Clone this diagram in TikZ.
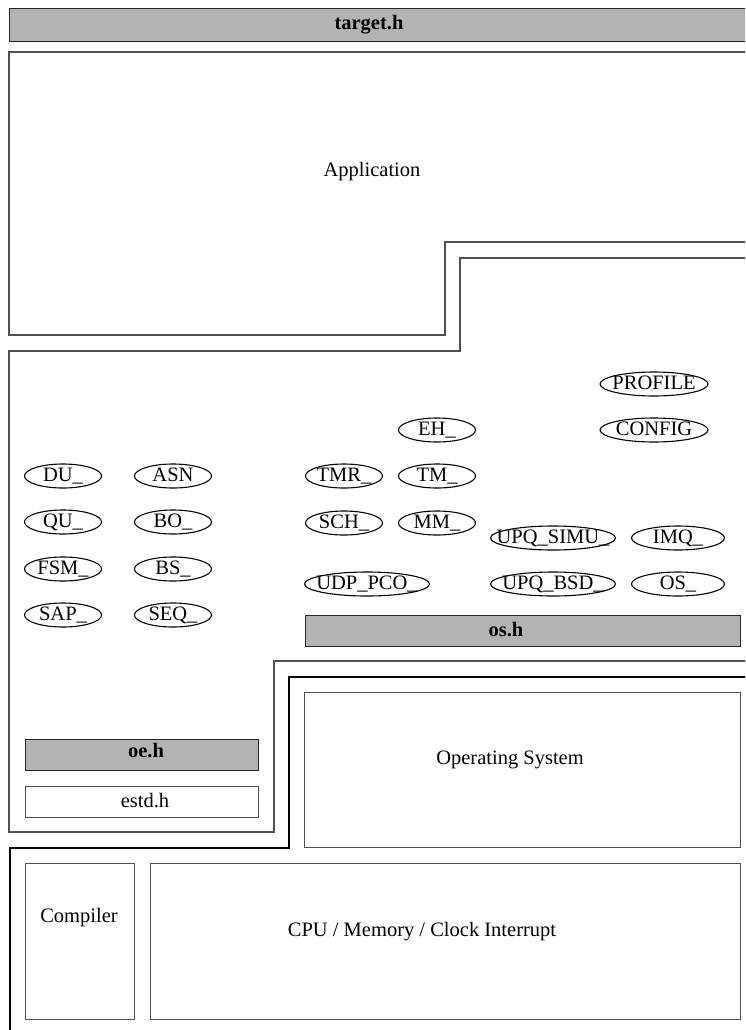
\documentclass[tikz,border=0pt]{standalone}
\usepackage{fontspec}
\setmainfont{Liberation Serif}
\usepackage{xcolor}
\usepackage{tikz}
\usetikzlibrary{shapes.geometric}
\definecolor{hdrgray}{RGB}{179,179,179}
\definecolor{edgegray}{RGB}{80,80,80}
\newcommand{\oz}[1]{\hbox to 0pt{\hss#1\hss}}

\begin{document}
\begin{tikzpicture}[
      x=1pt,y=-1pt,
      font=\fontsize{20.5}{24}\selectfont,
      region/.style={draw=edgegray,line width=1.2pt},
      osline/.style={draw=black,line width=2pt},
      box/.style={rectangle,draw=edgegray,line width=1pt,anchor=north west,inner sep=0pt},
      hdr/.style={box,fill=hdrgray,draw=black!85},
      hdrtxt/.style={font=\fontsize{20.5}{24}\selectfont\bfseries},
      oval/.style={ellipse,draw,line width=1.1pt,inner sep=0pt,minimum width=77pt,
                   minimum height=24pt,text height=11pt,text depth=0pt}]
    \useasboundingbox (0,0) rectangle (745,1030);
    \clip (0,0) rectangle (745,1030);
    % header
    \node[hdr,minimum width=760pt,minimum height=33pt] (target) at (9,8) {};
    \node[hdrtxt] (targettxt) at (369,25) {target.h};
    % layers
    \draw[region] (760,242) -- (445,242) -- (445,335) -- (9,335) -- (9,52) -- (760,52);
    \node (app) at (372,172) {Application};
    \draw[region] (760,258) -- (460,258) -- (460,351) -- (9,351) -- (9,832) -- (274,832) -- (274,661) -- (760,661);
    \draw[osline] (760,677) -- (289,677) -- (289,848) -- (10,848) -- (10,1040);
    % modules
    \foreach \nm/\x/\y/\t in {du/63/476/DU\_,asn/173/476/ASN,qu/63/522/QU\_,bo/173/522/BO\_,
        fsm/63/569/FSM\_,bs/173/569/BS\_,sap/63/615/SAP\_,seq/173/615/SEQ\_,
        eh/437/430/EH\_,tmr/344/476/TMR\_,tm/437/476/TM\_,sch/344/523/SCH\_,mm/437/523/MM\_}
      \node[oval] (\nm) at (\x,\y) {\oz{\t}};
    \foreach \nm/\x/\y/\w/\t in {profile/654/384/108/PROFILE,config/654/430/108/CONFIG,
        upqsimu/553/538/125/UPQ\_SIMU\_,imq/678/538/93/IMQ\_,
        udppco/367/584/125/UDP\_PCO\_,upqbsd/553/584/125/UPQ\_BSD\_,os/678/584/93/OS\_}
      \node[oval,minimum width=\w pt] (\nm) at (\x,\y) {\oz{\t}};
    \node[hdr,minimum width=435pt,minimum height=31pt] (osh) at (305,615) {};
    \node[hdrtxt] (oshtxt) at (506,630) {os.h};
    \node[hdr,minimum width=233pt,minimum height=31pt] (oeh) at (25,739) {};
    \node[hdrtxt] (oehtxt) at (146,751) {oe.h};
    \node[box,minimum width=233pt,minimum height=31pt] (estd) at (25,786) {};
    \node (estdtxt) at (145,801) {estd.h};
    % system
    \node[box,minimum width=436pt,minimum height=155pt] (osbox) at (304,692) {};
    \node (ostxt) at (510,760) {Operating System};
    \node[box,minimum width=109pt,minimum height=156pt] (comp) at (25,863) {};
    \node (comptxt) at (79,918) {Compiler};
    \node[box,minimum width=590pt,minimum height=156pt] (cpu) at (150,863) {};
    \node (cputxt) at (422,932) {CPU / Memory / Clock Interrupt};
  \end{tikzpicture}
\end{document}
